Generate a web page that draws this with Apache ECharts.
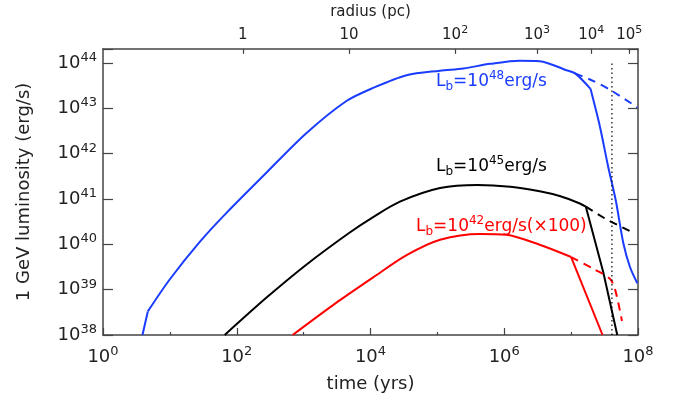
<!DOCTYPE html>
<html>
<head>
<meta charset="utf-8">
<script src="https://cdn.jsdelivr.net/npm/echarts@6/dist/echarts.min.js"></script>
<style>
  html, body { margin: 0; padding: 0; background: #fff; }
  #chart { width: 689px; height: 407px; }
</style>
</head>
<body>
<div id="chart"></div>
<script>
// all values are log10 of the real quantity (time in yrs, luminosity in erg/s)
// each curve is split at its kinks: a smooth body, then the straight/steep parts
var blueFootT = [0.59, 0.67];
var blueFootL = [38.0, 38.52];
var blueT = [0.67, 1.0, 1.45, 1.85, 2.45, 3.04, 3.64, 4.04, 4.54, 5.04, 5.39, 5.79, 6.23, 6.53, 6.93, 7.06, 7.29];
var blueL = [38.52, 39.23, 40.06, 40.7, 41.59, 42.45, 43.16, 43.45, 43.73, 43.83, 43.88, 43.98, 44.05, 44.04, 43.84, 43.77, 43.43];
var blueDropT = [7.29, 7.43, 7.55, 7.67, 7.78, 7.88, 7.99];
var blueDropL = [43.43, 42.6, 41.74, 40.95, 40.03, 39.5, 39.14];
var blueDashT = [7.06, 7.29, 7.58, 7.99];
var blueDashL = [43.77, 43.63, 43.41, 43.02];

var blackT = [1.82, 2.45, 3.04, 3.69, 4.04, 4.44, 5.04, 5.6, 6.09, 6.53, 6.84, 7.13, 7.22];
var blackL = [38.0, 38.83, 39.55, 40.26, 40.6, 40.94, 41.24, 41.31, 41.27, 41.17, 41.06, 40.9, 40.83];
var blackDropT = [7.22, 7.48, 7.69];
var blackDropL = [40.83, 39.39, 38.0];
var blackDashT = [7.22, 7.55, 7.91];
var blackDashL = [40.83, 40.53, 40.27];

var redT = [2.835, 3.44, 4.04, 4.54, 5.04, 5.64, 6.03, 6.53, 7.0];
var redL = [38.0, 38.66, 39.27, 39.76, 40.1, 40.23, 40.21, 39.99, 39.72];
var redDropT = [7.0, 7.47];
var redDropL = [39.72, 38.0];
var redDashT = [7.0, 7.33, 7.58, 7.66, 7.76];
var redDashL = [39.72, 39.46, 39.24, 38.99, 38.31];

var dotT = [7.61, 7.61];
var dotL = [38, 44];

// top axis: radius (pc) tick positions on the time axis
var radiusPos = [2.09, 3.68, 5.265, 6.49, 7.30, 7.87];
var radiusLabels = ['{n|1}', '{n|10}', '{n|10}{s|2}', '{n|10}{s|3}', '{n|10}{s|4}', '{n|10}{s|5}'];

var FONT = 'DejaVu Sans';
var TXT = '#222';
var AX = '#444';
var BLUE = '#1a3cff', RED = '#ff0000', BLACK = '#000';

function pairs(xs, ys) {
    return xs.map(function (x, i) { return [x, ys[i]]; });
}

var tickRich = {
    n: { fontSize: 18, lineHeight: 24, fontFamily: FONT, color: TXT },
    s: { fontSize: 13, lineHeight: 13, verticalAlign: 'top', fontFamily: FONT, color: TXT }
};

function powLabel(v) {
    if (Math.abs(v - Math.round(v)) > 1e-6) return '';
    return '{n|10}{s|' + Math.round(v) + '}';
}

function labelRich(color) {
    return {
        n: { fontSize: 17, lineHeight: 23, fontFamily: FONT, fill: color },
        sub: { fontSize: 12, lineHeight: 12, verticalAlign: 'bottom', fontFamily: FONT, fill: color },
        sup: { fontSize: 12, lineHeight: 12, verticalAlign: 'top', fontFamily: FONT, fill: color }
    };
}

function lbl(x, y, sup, tail, color) {
    return {
        type: 'text', left: x, top: y, silent: true,
        style: {
            text: '{n|L}{sub|b}{n|=10}{sup|' + sup + '}{n|' + tail + '}',
            rich: labelRich(color), fill: color, font: '17px ' + FONT
        }
    };
}

function line(xs, ys, color, dashed, smooth) {
    return {
        type: 'line', xAxisIndex: 0, yAxisIndex: 0,
        data: pairs(xs, ys), showSymbol: false, symbol: 'none',
        smooth: smooth ? 0.3 : false,
        lineStyle: { color: color, width: 2, type: dashed ? [8, 6] : 'solid' },
        clip: true
    };
}

var myChart = echarts.init(document.getElementById('chart'));

var option = {
    backgroundColor: '#fff',
    animation: false,
    grid: { left: 103, right: 51, top: 40, bottom: 72 },
    xAxis: [
        {
            type: 'value', position: 'bottom', min: 0, max: 8, interval: 2,
            name: 'time (yrs)', nameLocation: 'middle', nameGap: 40,
            nameTextStyle: { fontSize: 18, fontFamily: FONT, color: TXT },
            axisLine: { show: true, onZero: false, lineStyle: { color: AX, width: 1.5 } },
            axisTick: { inside: true, length: 7, lineStyle: { color: AX, width: 1.2 } },
            minorTick: { show: true, splitNumber: 2, length: 3, lineStyle: { color: AX, width: 1.2 } },
            axisLabel: { margin: 10, formatter: powLabel, rich: tickRich },
            splitLine: { show: false }
        },
        {
            type: 'value', position: 'top', min: 0, max: 8,
            name: 'radius (pc)', nameLocation: 'middle', nameGap: 22,
            nameTextStyle: { fontSize: 15, fontFamily: FONT, color: TXT },
            axisLine: { show: true, onZero: false, lineStyle: { color: AX, width: 1.5 } },
            axisTick: { inside: true, length: 5, customValues: radiusPos, lineStyle: { color: AX, width: 1.2 } },
            axisLabel: {
                margin: 4, customValues: radiusPos,
                formatter: function (v) {
                    var i = radiusPos.indexOf(v);
                    return i < 0 ? '' : radiusLabels[i];
                },
                rich: {
                    n: { fontSize: 15, lineHeight: 20, fontFamily: FONT, color: TXT },
                    s: { fontSize: 11, lineHeight: 11, verticalAlign: 'top', fontFamily: FONT, color: TXT }
                }
            },
            splitLine: { show: false }
        }
    ],
    yAxis: [
        {
            type: 'value', position: 'left', min: 38, max: 44.31, interval: 1,
            name: '1 GeV luminosity (erg/s)', nameLocation: 'middle', nameGap: 70,
            nameTextStyle: { fontSize: 18, fontFamily: FONT, color: TXT },
            axisLine: { show: true, onZero: false, lineStyle: { color: AX, width: 1.5 } },
            axisTick: { inside: true, length: 10, lineStyle: { color: AX, width: 1.2 } },
            axisLabel: { margin: 6, formatter: powLabel, rich: tickRich },
            splitLine: { show: false }
        },
        {
            type: 'value', position: 'right', min: 38, max: 44.31, interval: 1,
            axisLine: { show: true, onZero: false, lineStyle: { color: AX, width: 1.5 } },
            axisTick: { inside: true, length: 10, lineStyle: { color: AX, width: 1.2 } },
            axisLabel: { show: false },
            splitLine: { show: false }
        }
    ],
    graphic: [
        lbl(436, 70, '48', 'erg/s', BLUE),
        lbl(436, 155, '45', 'erg/s', BLACK),
        lbl(416, 215, '42', 'erg/s(\u00d7100)', RED)
    ],
    series: [
        line(blueFootT, blueFootL, BLUE, false, false),
        line(blueT, blueL, BLUE, false, true),
        line(blueDropT, blueDropL, BLUE, false, true),
        line(blueDashT, blueDashL, BLUE, true, true),
        line(blackT, blackL, BLACK, false, true),
        line(blackDropT, blackDropL, BLACK, false, false),
        line(blackDashT, blackDashL, BLACK, true, false),
        line(redT, redL, RED, false, true),
        line(redDropT, redDropL, RED, false, false),
        line(redDashT, redDashL, RED, true, true),
        {
            type: 'line', data: pairs(dotT, dotL), symbol: 'none',
            lineStyle: { color: BLACK, width: 1.2, type: [1.5, 3] }
        }
    ]
};

myChart.setOption(option);
</script>
</body>
</html>
